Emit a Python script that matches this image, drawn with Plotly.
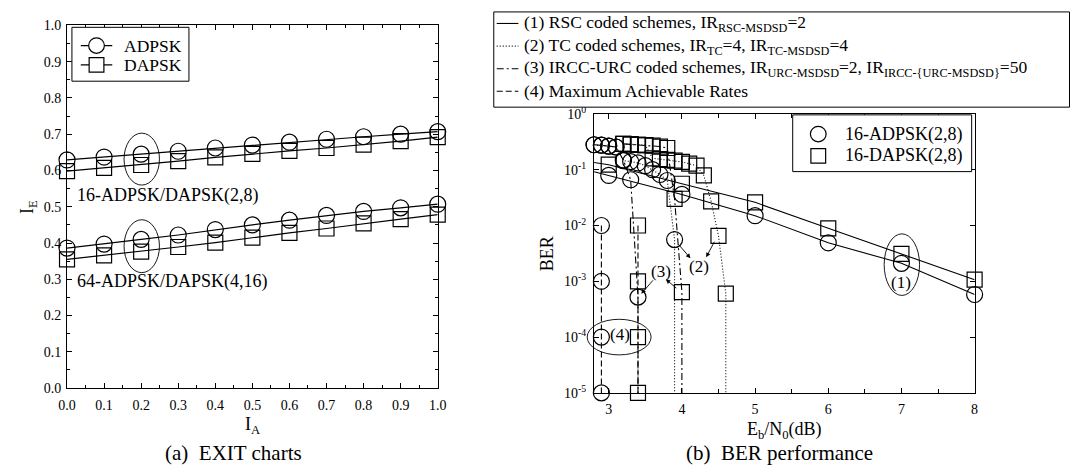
import plotly.graph_objects as go

W, H = 1079, 474
FONT = "Liberation Serif, Times New Roman, serif"

# ---------------- (a) EXIT chart data ----------------
ia = [0.0, 0.1, 0.2, 0.3, 0.4, 0.5, 0.6, 0.7, 0.8, 0.9, 1.0]
ie_adpsk16 = [0.629, 0.637, 0.645, 0.653, 0.662, 0.670, 0.678, 0.686, 0.693, 0.700, 0.707]
ie_dapsk16 = [0.598, 0.607, 0.615, 0.626, 0.636, 0.646, 0.654, 0.662, 0.671, 0.681, 0.692]
ie_adpsk64 = [0.386, 0.397, 0.410, 0.422, 0.437, 0.450, 0.463, 0.476, 0.487, 0.497, 0.507]
ie_dapsk64 = [0.355, 0.366, 0.376, 0.389, 0.401, 0.415, 0.428, 0.440, 0.454, 0.466, 0.478]
exit_ticks = [0.0, 0.1, 0.2, 0.3, 0.4, 0.5, 0.6, 0.7, 0.8, 0.9, 1.0]

# ---------------- (b) BER data ----------------
# (1) RSC coded schemes
rsc_x = [3, 4, 5, 6, 7, 8]
rsc_adpsk = [0.079, 0.036, 0.015, 0.0049, 0.0021, 0.00058]
rsc_dapsk = [0.123, 0.056, 0.026, 0.0089, 0.0031, 0.00107]
rsc_edge_x = 2.8
rsc_edge_adpsk = 0.092
rsc_edge_dapsk = 0.135

# (2) TC coded schemes
tc_adpsk_x = [2.8, 2.9, 3.0, 3.1, 3.2, 3.3, 3.4, 3.5, 3.6, 3.7, 3.8, 3.9]
tc_adpsk_y = [0.28, 0.275, 0.265, 0.255, 0.145, 0.140, 0.132, 0.118, 0.100, 0.082, 0.064, 0.0056]
tc_dapsk_x = [3.2, 3.3, 3.4, 3.5, 3.6, 3.7, 3.8, 3.9, 4.0, 4.1, 4.2, 4.3, 4.4, 4.5, 4.6]
tc_dapsk_y = [0.29, 0.285, 0.28, 0.275, 0.16, 0.155, 0.150, 0.145, 0.138, 0.128, 0.118, 0.079, 0.027, 0.0065, 0.0006]

# (3) IRCC-URC coded schemes
ircc_adpsk_x = [2.8, 2.9, 3.0, 3.1, 3.2, 3.3, 3.4]
ircc_adpsk_y = [0.28, 0.275, 0.265, 0.255, 0.15, 0.066, 0.00052]
ircc_dapsk_x = [3.2, 3.3, 3.4, 3.5, 3.6, 3.7, 3.8, 3.9, 4.0]
ircc_dapsk_y = [0.29, 0.285, 0.28, 0.275, 0.27, 0.26, 0.245, 0.030, 0.00064]

# (4) Maximum achievable rates
mar_adpsk_x = 2.9
mar_dapsk_x = 3.4
mar_ber = [1e-2, 1e-3, 1e-4, 1e-5]

ber_floor = 1e-5
ber_tickvals = [1e-5, 1e-4, 1e-3, 1e-2, 1e-1, 1]
ber_ticktext = ["10<sup>-5</sup>", "10<sup>-4</sup>", "10<sup>-3</sup>", "10<sup>-2</sup>",
                "10<sup>-1</sup>", "10<sup>0</sup>"]
ebn0_ticks = [3, 4, 5, 6, 7, 8]

exit_legend = ["ADPSK", "DAPSK"]
ber_marker_legend = ["16-ADPSK(2,8)", "16-DAPSK(2,8)"]
ber_line_legend = ["(1) RSC coded schemes, IR<sub>RSC-MSDSD</sub>=2",
                   "(2) TC coded schemes, IR<sub>TC</sub>=4, IR<sub>TC-MSDSD</sub>=4",
                   "(3) IRCC-URC coded schemes, IR<sub>URC-MSDSD</sub>=2, IR<sub>IRCC-{URC-MSDSD}</sub>=50",
                   "(4) Maximum Achievable Rates"]

DASH_RSC, DASH_TC, DASH_IRCC, DASH_MAR = "solid", "1px,2px", "7px,3px,2px,3px", "6px,3px"


def px(x):
    return x / W


def py(y):
    return 1 - y / H


fig = go.Figure()

LW = 1.2
circ = dict(symbol="circle-open", size=16, color="black", line=dict(width=1.2, color="black"))
sq = dict(symbol="square-open", size=15, color="black", line=dict(width=1.2, color="black"))

# ---- EXIT traces ----
for yv, mk in [(ie_adpsk16, circ), (ie_dapsk16, sq), (ie_adpsk64, circ), (ie_dapsk64, sq)]:
    fig.add_trace(go.Scatter(x=ia, y=yv, mode="lines+markers", showlegend=False,
                             line=dict(color="black", width=LW), marker=mk, cliponaxis=False,
                             xaxis="x", yaxis="y"))


# ---- BER traces ----
def ber_series(xs, ys, mk, dash, floor_x=None, edge=None):
    lx, ly = list(xs), list(ys)
    if floor_x is not None:
        lx.append(floor_x)
        ly.append(ber_floor)
    if edge is not None:
        lx.insert(0, edge[0])
        ly.insert(0, edge[1])
    fig.add_trace(go.Scatter(x=lx, y=ly, mode="lines", showlegend=False,
                             line=dict(color="black", width=1.1, dash=dash),
                             xaxis="x2", yaxis="y2"))
    fig.add_trace(go.Scatter(x=xs, y=ys, mode="markers", showlegend=False, marker=mk,
                             cliponaxis=False, xaxis="x2", yaxis="y2"))


ber_series(rsc_x, rsc_adpsk, circ, DASH_RSC, edge=(rsc_edge_x, rsc_edge_adpsk))
ber_series(rsc_x, rsc_dapsk, sq, DASH_RSC, edge=(rsc_edge_x, rsc_edge_dapsk))
ber_series(tc_adpsk_x, tc_adpsk_y, circ, DASH_TC, floor_x=tc_adpsk_x[-1])
ber_series(tc_dapsk_x, tc_dapsk_y, sq, DASH_TC, floor_x=tc_dapsk_x[-1])
ber_series(ircc_adpsk_x, ircc_adpsk_y, circ, DASH_IRCC, floor_x=ircc_adpsk_x[-1])
ber_series(ircc_dapsk_x, ircc_dapsk_y, sq, DASH_IRCC, floor_x=ircc_dapsk_x[-1])
ber_series([mar_adpsk_x] * len(mar_ber), mar_ber, circ, DASH_MAR)
ber_series([mar_dapsk_x] * len(mar_ber), mar_ber, sq, DASH_MAR)

axis_common = dict(showline=True, linecolor="black", linewidth=1, mirror="ticks", ticks="inside",
                   ticklen=5, tickcolor="black", showgrid=False, zeroline=False,
                   tickfont=dict(family=FONT, size=14, color="black"))

fig.update_layout(
    width=W, height=H, margin=dict(l=0, r=0, t=0, b=0),
    paper_bgcolor="white", plot_bgcolor="white", showlegend=False,
    font=dict(family=FONT, color="black"),
    xaxis=dict(domain=[px(59), px(436)], range=[0, 1], anchor="y", ticklabelstandoff=4,
               tickvals=exit_ticks, ticktext=[f"{v:.1f}" for v in exit_ticks],
               minor=dict(dtick=0.05, ticks="inside", ticklen=3, tickcolor="black"),
               **axis_common),
    yaxis=dict(domain=[py(393), py(16)], range=[0, 1], anchor="x", ticklabelstandoff=2,
               tickvals=exit_ticks, ticktext=[f"{v:.1f}" for v in exit_ticks],
               minor=dict(dtick=0.05, ticks="inside", ticklen=3, tickcolor="black"),
               **axis_common),
    xaxis2=dict(domain=[px(595), px(982)], range=[2.8, 8], anchor="y2", ticklabelstandoff=3,
                tickvals=ebn0_ticks, ticktext=[str(v) for v in ebn0_ticks],
                minor=dict(dtick=0.5, tick0=3, ticks="inside", ticklen=4, tickcolor="black"),
                **axis_common),
    yaxis2=dict(domain=[py(398), py(108)], type="log", range=[-5, 0], anchor="x2",
                ticklabelstandoff=4, tickvals=ber_tickvals, ticktext=ber_ticktext, **axis_common),
)

shapes = []
ann = []


def ellipse(cx, cy, rx, ry):
    shapes.append(dict(type="circle", xref="paper", yref="paper",
                       x0=px(cx - rx), x1=px(cx + rx), y0=py(cy + ry), y1=py(cy - ry),
                       line=dict(color="black", width=0.9)))


def box(x0, y0, x1, y1):
    shapes.append(dict(type="rect", xref="paper", yref="paper", x0=px(x0), x1=px(x1),
                       y0=py(y1), y1=py(y0), fillcolor="white", line=dict(color="black", width=1)))


def seg(x0, x1, y, dash):
    shapes.append(dict(type="line", xref="paper", yref="paper", x0=px(x0), x1=px(x1),
                       y0=py(y), y1=py(y), line=dict(color="black", width=1.1, dash=dash)))


def sym(kind, cx, cy, d):
    shapes.append(dict(type="circle" if kind == "circle" else "rect", xref="paper", yref="paper",
                       x0=px(cx - d / 2), x1=px(cx + d / 2), y0=py(cy + d / 2), y1=py(cy - d / 2),
                       fillcolor="white", line=dict(color="black", width=1.2)))


def text(x, y, t, size=17, angle=0, xanchor="center"):
    ann.append(dict(x=px(x), y=py(y), xref="paper", yref="paper", text=t, showarrow=False,
                    textangle=angle, xanchor=xanchor, yanchor="middle",
                    font=dict(family=FONT, size=size, color="black")))


def arrow(hx, hy, tx, ty):
    ann.append(dict(x=px(hx), y=py(hy), xref="paper", yref="paper", text="", showarrow=True,
                    ax=tx - hx, ay=ty - hy, axref="pixel", ayref="pixel",
                    arrowhead=2, arrowsize=1, arrowwidth=0.9, arrowcolor="black",
                    standoff=0, startstandoff=0))


# ellipses
ellipse(135, 155, 18, 27)
ellipse(135, 245.5, 18, 27.5)
ellipse(908, 264.7, 18, 32)
ellipse(620.5, 340, 32.5, 18.5)

# legend (a)
box(64, 18, 183, 74)
for i, (name, kind) in enumerate(zip(exit_legend, ["circle", "square"])):
    yy = 37 + 20 * i
    seg(73, 105, yy, "solid")
    sym(kind, 89, yy, 16 if kind == "circle" else 15)
    text(115, yy, name, 17.5, xanchor="left")

# legend (b) markers
box(797, 109, 979, 168)
for i, (name, kind) in enumerate(zip(ber_marker_legend, ["circle", "square"])):
    yy = 129 + 22.7 * i
    sym(kind, 823, yy, 16 if kind == "circle" else 15)
    text(848, yy, name, 18, xanchor="left")

# legend (b) line styles
box(493, 2, 1078.5, 101)
for i, (name, dash) in enumerate(zip(ber_line_legend, [DASH_RSC, DASH_TC, DASH_IRCC, DASH_MAR])):
    yy = 14 + 23.5 * i
    seg(496, 518, yy, dash)
    text(522, yy, name, 17.5, xanchor="left")

fig.update_layout(shapes=shapes)

text(20, 205, "I<sub>E</sub>", 18, -90)
text(248, 432, "I<sub>A</sub>", 18)
text(228, 461, "(a)\u00a0 EXIT charts", 21)
text(67, 193, "16-ADPSK/DAPSK(2,8)", 18, xanchor="left")
text(67, 282, "64-ADPSK/DAPSK(4,16)", 18, xanchor="left")
text(548, 253, "BER", 18, -90)
text(789, 437, "E<sub>b</sub>/N<sub>0</sub>(dB)", 18)
text(784, 460, "(b)\u00a0 BER performance", 21)
text(907, 283, "(1)", 17)
text(702, 267, "(2)", 17)
text(663, 272, "(3)", 17)
text(621, 337, "(4)", 17)
arrow(643, 295, 656, 280)
arrow(668, 280, 680, 290)
arrow(693, 258, 680, 243)
arrow(709, 257, 718, 240)
fig.update_layout(annotations=ann)

fig.write_html("out.html")
